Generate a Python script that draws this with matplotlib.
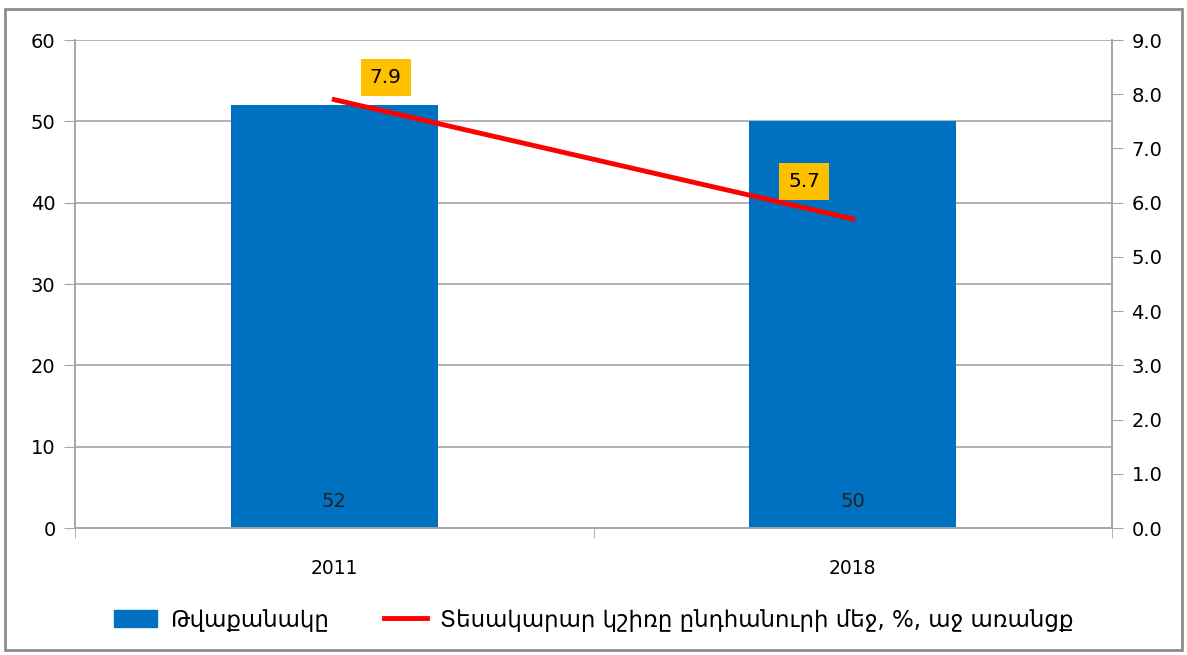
import matplotlib.pyplot as plt
import matplotlib.patches as mpatches
import numpy as np

years = ["2011", "2018"]
counts = [52, 50]
shares = [7.9, 5.7]
count_label = "Թվաքանակը"
share_label = "Տեսակարար կշիռը ընդհանուրի մեջ, %, աջ առանցք"

plt.rcParams['font.family'] = ['DejaVu Sans']

fig = plt.figure(figsize=(11.87, 6.55), dpi=100)
ax = fig.add_axes([75/1187, 1 - 528/655, (1112 - 75)/1187, (528 - 40)/655])
ax2 = ax.twinx()

x = np.arange(len(years))
bars = ax.bar(x, counts, width=0.4, color="#0070C0", label=count_label, zorder=2)
ax.set_xlim(-0.5, 1.5)
ax.set_ylim(0, 60)
ax.set_yticks(range(0, 61, 10))
ax.yaxis.grid(True, color="#a6a6a6", linewidth=1.2, zorder=0)
ax.set_axisbelow(True)
ax.set_xticks(x)
ax.set_xticklabels(years)
ax.set_xticks([-0.5, 0.5, 1.5], minor=True)
ax.tick_params(axis="x", which="major", length=0, pad=22, labelsize=13.5)
ax.tick_params(axis="x", which="minor", length=7, color="#a6a6a6")
ax.tick_params(axis="y", length=8, color="#a6a6a6", labelsize=14, pad=6)

for b, v in zip(bars, counts):
    ax.text(b.get_x() + b.get_width() / 2, 3.3, str(v), ha="center", va="center",
            fontsize=14, color="#222222")

ax2.plot(x, shares, color="#FF0000", linewidth=3.5, label=share_label, zorder=3)
ax2.set_ylim(0, 9)
ax2.set_yticks(np.arange(0, 9.1, 1))
ax2.set_yticklabels([f"{v:.1f}" for v in np.arange(0, 9.1, 1)])
ax2.tick_params(axis="y", length=8, color="#a6a6a6", labelsize=14, pad=6)

# offsets in points (dpi 100)
offsets = [(37, 16), (-35, 27)]
for xi, v, off in zip(x, shares, offsets):
    ax2.annotate(f"{v:.1f}", (xi, v), xytext=off, textcoords="offset points",
                 ha="center", va="center", fontsize=14.5,
                 bbox=dict(boxstyle="square,pad=0.45", fc="#FFC000", ec="none"))

for a in (ax, ax2):
    a.spines["top"].set_visible(False)
    for s in ["left", "right", "bottom"]:
        a.spines[s].set_color("#a6a6a6")
        a.spines[s].set_linewidth(1.2)

handles = [mpatches.Patch(color="#0070C0"),
           plt.Line2D([], [], color="#FF0000", linewidth=3.5)]
fig.legend(handles, [count_label, share_label], loc="center",
           bbox_to_anchor=(0.5, 1 - 620/655), ncol=2, frameon=False,
           fontsize=16.5, handlelength=1.9, columnspacing=2.4, handletextpad=0.55)

border = mpatches.Rectangle((5/1187, 5/655), 1 - 10/1187, 1 - 14/655,
                            transform=fig.transFigure, fill=False,
                            edgecolor="#8c8c8c", linewidth=2)
fig.patches.append(border)

fig.savefig("out.png", dpi=100)
